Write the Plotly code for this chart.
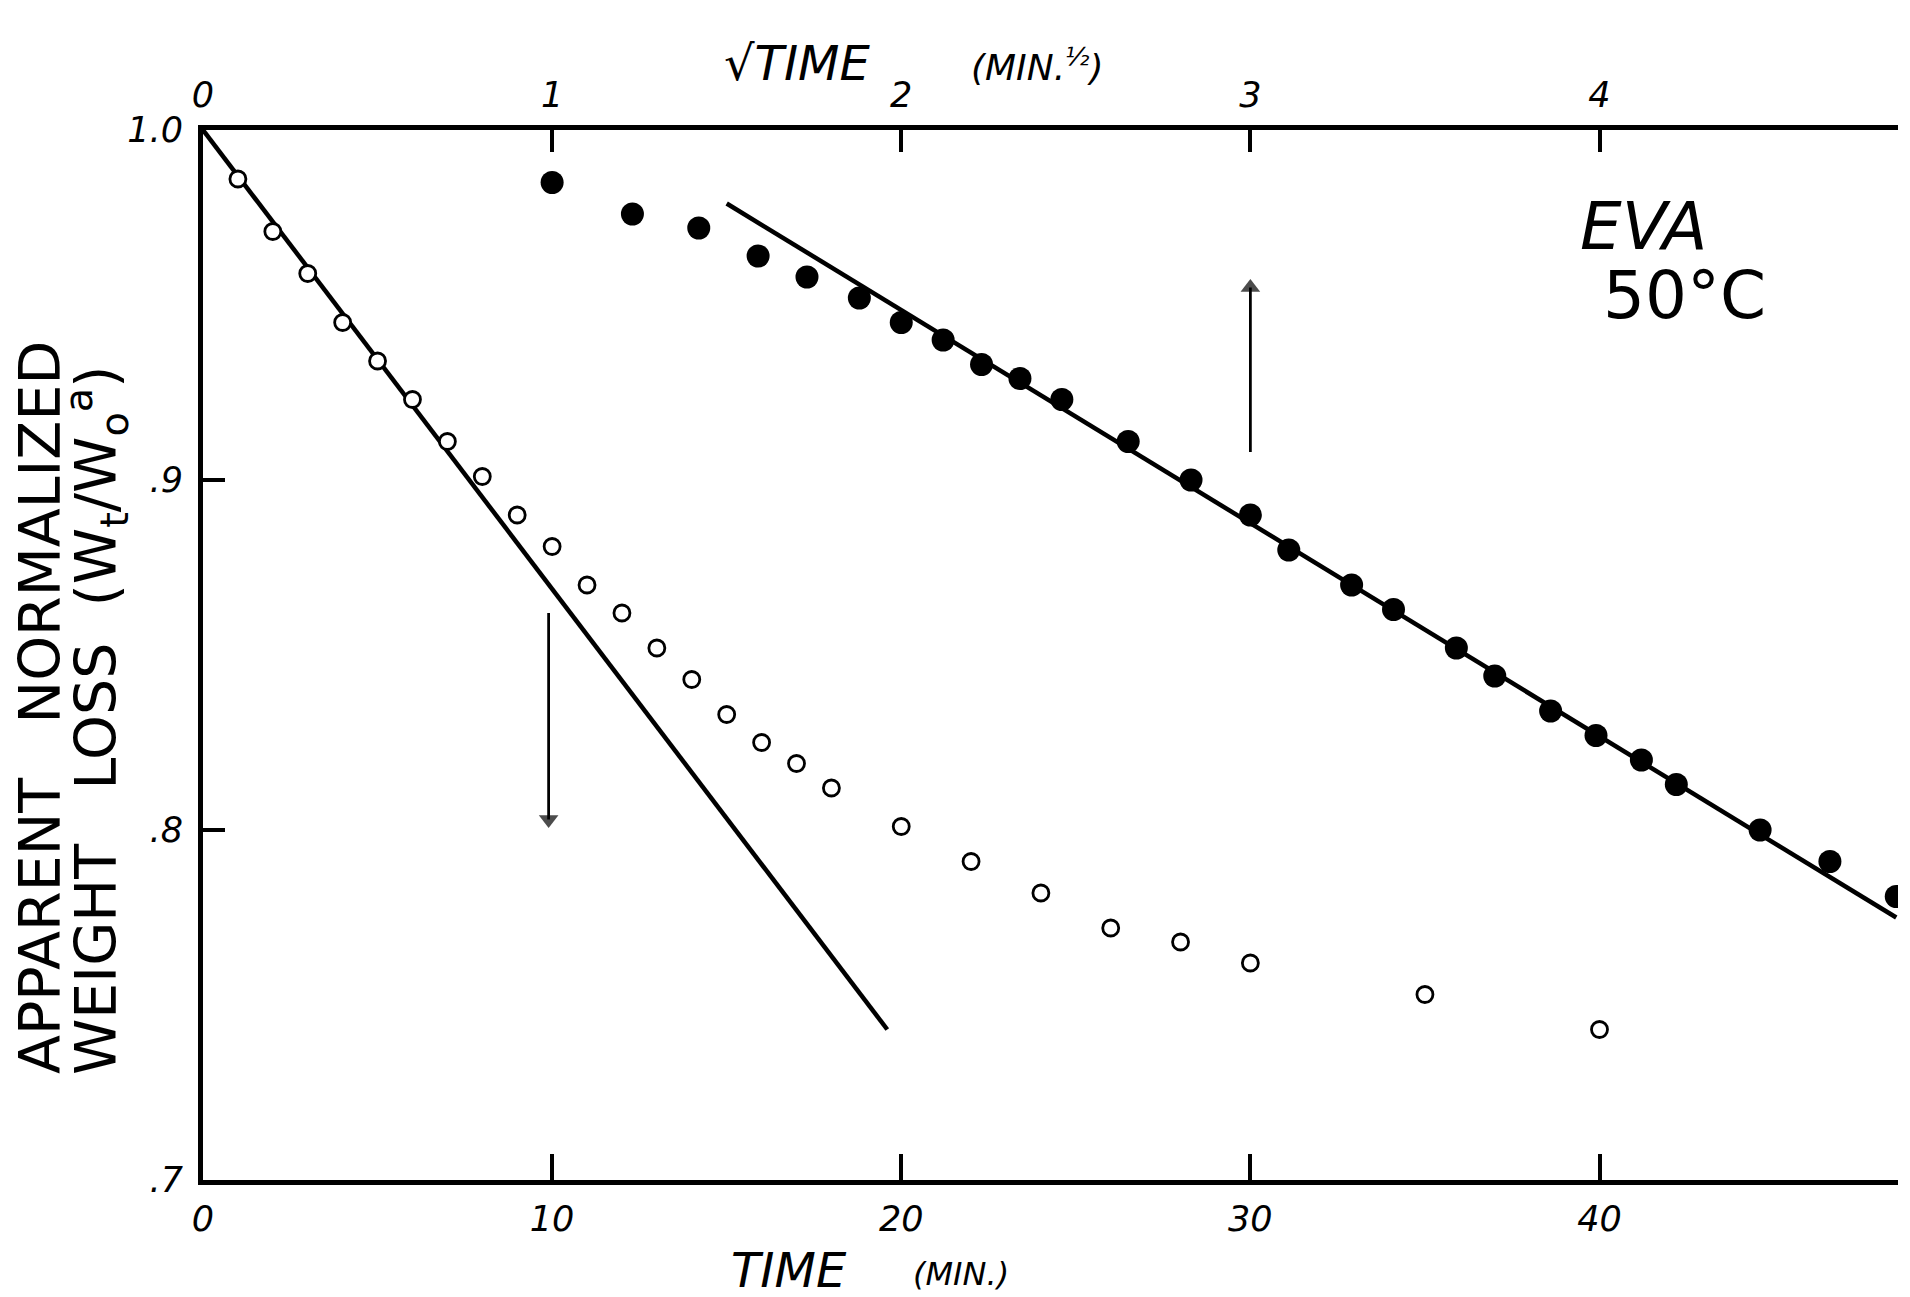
import plotly.graph_objects as go

# ---- data ----
# open circles: plotted against TIME (min), bottom axis
time_open = [1, 2, 3, 4, 5, 6, 7, 8, 9, 10, 11, 12, 13, 14, 15, 16, 17, 18,
             20, 22, 24, 26, 28, 30, 35, 40]
loss_open = [0.986, 0.971, 0.959, 0.945, 0.934, 0.923, 0.911, 0.901, 0.890,
             0.881, 0.870, 0.862, 0.852, 0.843, 0.833, 0.825, 0.819, 0.812,
             0.801, 0.791, 0.782, 0.772, 0.768, 0.762, 0.753, 0.743]

# filled circles: plotted against sqrt(TIME) (min^1/2), top axis
sqrt_filled = [1.00, 1.23, 1.42, 1.59, 1.73, 1.88, 2.00, 2.12, 2.23, 2.34,
               2.46, 2.65, 2.83, 3.00, 3.11, 3.29, 3.41, 3.59, 3.70, 3.86,
               3.99, 4.12, 4.22, 4.46, 4.66, 4.85]
loss_filled = [0.985, 0.976, 0.972, 0.964, 0.958, 0.952, 0.945, 0.940, 0.933,
               0.929, 0.923, 0.911, 0.900, 0.890, 0.880, 0.870, 0.863, 0.852,
               0.844, 0.834, 0.827, 0.820, 0.813, 0.800, 0.791, 0.781]

# fitted straight lines
fit_time_x = [0, 19.6]
fit_time_y = [1.0, 0.743]
fit_sqrt_x = [1.5, 4.85]
fit_sqrt_y = [0.979, 0.775]

# arrows (tail -> head)
arrow_time = dict(x=9.9, tail=0.862, head=0.803)
arrow_sqrt = dict(x=3.0, tail=0.908, head=0.955)

# axis ticks
time_ticks = [0, 10, 20, 30, 40]
time_ticktext = ["0", "10", "20", "30", "40"]
sqrt_ticks = [0, 1, 2, 3, 4]
sqrt_ticktext = ["0", "1", "2", "3", "4"]
y_ticks = [0.7, 0.8, 0.9, 1.0]
y_ticktext = [".7", ".8", ".9", "1.0"]

FONT = "DejaVu Sans ExtraLight, DejaVu Sans, sans-serif"

fig = go.Figure()

fig.add_trace(go.Scatter(x=fit_time_x, y=fit_time_y, mode="lines",
                         line=dict(color="black", width=4.5), xaxis="x", yaxis="y",
                         showlegend=False))
fig.add_trace(go.Scatter(x=fit_sqrt_x, y=fit_sqrt_y, mode="lines",
                         line=dict(color="black", width=4.5), xaxis="x2", yaxis="y",
                         showlegend=False))
fig.add_trace(go.Scatter(x=time_open, y=loss_open, mode="markers",
                         marker=dict(symbol="circle", size=16, color="white",
                                     line=dict(color="black", width=2.8)),
                         xaxis="x", yaxis="y", showlegend=False))
fig.add_trace(go.Scatter(x=sqrt_filled, y=loss_filled, mode="markers",
                         marker=dict(symbol="circle", size=23, color="black",
                                     line=dict(color="black", width=0)),
                         xaxis="x2", yaxis="y", showlegend=False))

# arrows drawn as line + narrow triangle head
fig.add_trace(go.Scatter(x=[arrow_time["x"], arrow_time["x"]],
                         y=[arrow_time["tail"], arrow_time["head"]],
                         mode="lines+markers", xaxis="x", yaxis="y",
                         line=dict(color="black", width=2.8),
                         marker=dict(symbol=["line-ns", "triangle-down"], size=[1, 17],
                                     color="black", line=dict(width=0)),
                         showlegend=False))
fig.add_trace(go.Scatter(x=[arrow_sqrt["x"], arrow_sqrt["x"]],
                         y=[arrow_sqrt["tail"], arrow_sqrt["head"]],
                         mode="lines+markers", xaxis="x2", yaxis="y",
                         line=dict(color="black", width=2.8),
                         marker=dict(symbol=["line-ns", "triangle-up"], size=[1, 17],
                                     color="black", line=dict(width=0)),
                         showlegend=False))

annotations = []

# text annotations placed by pixel position (converted below)
text_items = [
    # (x_px, y_px, text, size, italic, angle)
    (1636, 218, "EVA", 66, True, 0),
    (1676, 287, "50°C", 66, False, 0),
    (789, 55, "√TIME", 48, True, 0),
    (1029, 57, "(MIN.<sup>½</sup>)", 36, True, 0),
    (781, 1262, "TIME", 48, True, 0),
    (953, 1266, "(MIN.)", 32, True, 0),
    (32, 700, "APPARENT   NORMALIZED", 57, False, -90),
    (88, 712, "WEIGHT   LOSS  (W<sub>t</sub>/W<sub>o</sub><sup>a</sup>)", 57, False, -90),
]

W, H = 1910, 1297
L, R, T, B = 195, 20, 122, 125
pw, ph = W - L - R, H - T - B

for (px, py, txt, size, italic, ang) in text_items:
    font = dict(family=FONT, size=size, color="black")
    if italic:
        font["style"] = "italic"
    annotations.append(dict(
        x=(px - L) / pw, y=1 - (py - T) / ph, xref="paper", yref="paper",
        text=txt, showarrow=False, textangle=ang, font=font,
        xanchor="center", yanchor="middle"))

tickfont = dict(family=FONT, size=35, color="black", style="italic")

fig.update_layout(
    width=W, height=H,
    margin=dict(l=L, r=R, t=T, b=B),
    paper_bgcolor="white", plot_bgcolor="white",
    showlegend=False,
    xaxis=dict(range=[0, 48.55], showgrid=False, zeroline=False,
               showline=True, linewidth=5, linecolor="black",
               ticks="inside", ticklen=26, tickwidth=4, tickcolor="black",
               tickvals=time_ticks, ticktext=time_ticktext, tickfont=tickfont,
               ticklabelstandoff=4),
    xaxis2=dict(range=[0, 4.855], overlaying="x", side="top", showgrid=False,
                zeroline=False, showline=True, linewidth=5, linecolor="black",
                ticks="inside", ticklen=22, tickwidth=4, tickcolor="black",
                tickvals=sqrt_ticks, ticktext=sqrt_ticktext, tickfont=tickfont,
                ticklabelstandoff=4),
    yaxis=dict(range=[0.7, 1.0], showgrid=False, zeroline=False,
               showline=True, linewidth=5, linecolor="black",
               ticks="inside", ticklen=22, tickwidth=4, tickcolor="black",
               tickvals=y_ticks, ticktext=y_ticktext, tickfont=tickfont,
               ticklabelstandoff=8),
    annotations=annotations,
)

fig.write_html("out.html")
